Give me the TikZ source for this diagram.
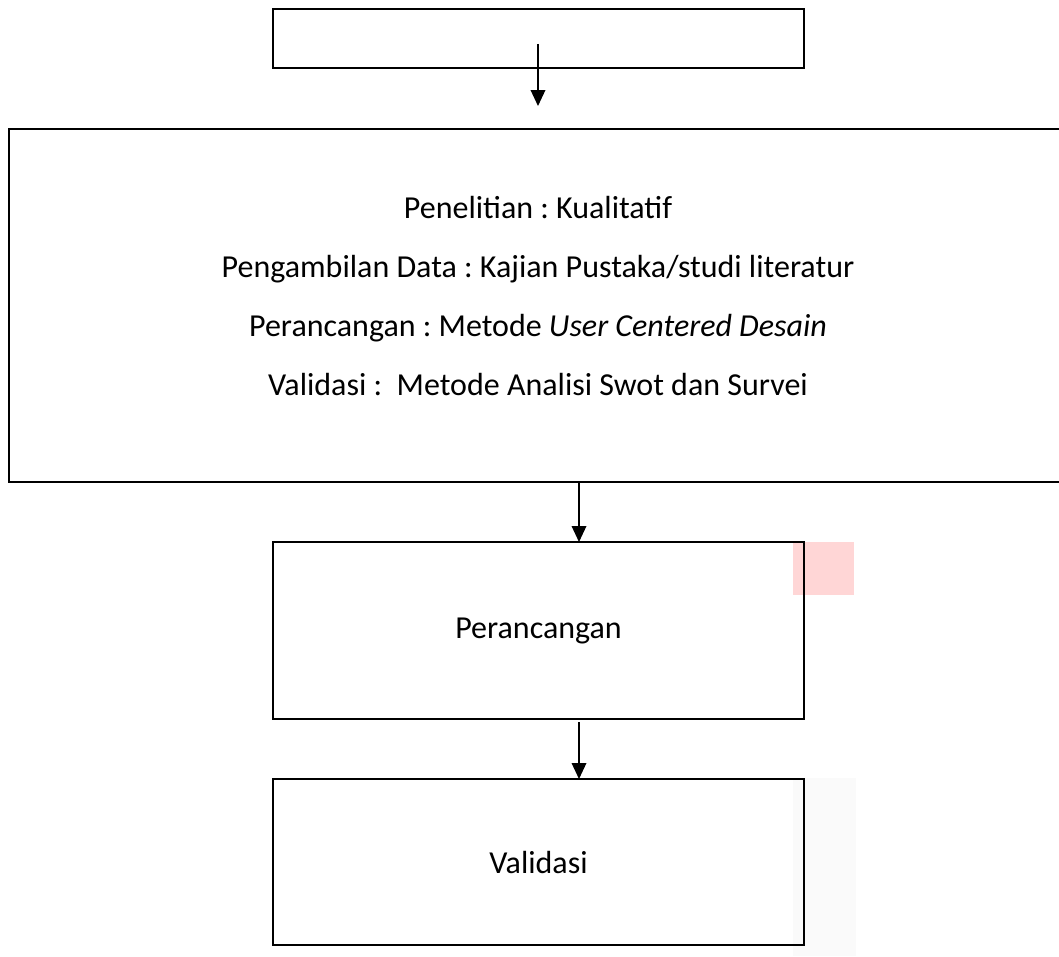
\documentclass[tikz,border=0pt]{standalone}
\usepackage{fontspec}
\setmainfont{Carlito}
\usetikzlibrary{arrows.meta}
\frenchspacing
\definecolor{merahmuda}{RGB}{255,214,214}
\definecolor{abumuda}{RGB}{250,250,250}
\tikzset{
  kotak/.style={shape=rectangle,draw=black,line width=1.5pt,inner sep=0pt},
  panah/.style={draw,-{Triangle[length=12pt,width=11pt]},line width=1pt}
}
\begin{document}
\begin{tikzpicture}[x=0.75pt,y=-0.75pt]
      \useasboundingbox (0,0) rectangle (1059,956);
      \clip (0,0) rectangle (1059,956);
      % bercak warna di samping kotak
      \fill[merahmuda] (793,542) rectangle (854,595);
      \fill[abumuda] (793,778) rectangle (856,956);
      % kotak-kotak
      \node[kotak,minimum width=531*0.75pt,minimum height=59*0.75pt] (Atas) at (538.5,38.5) {};
      \node[kotak,minimum width=1062*0.75pt,minimum height=353*0.75pt] (Metode) at (540,305.5) {};
      \node[align=center,font=\fontsize{24}{44.3}\selectfont] (Isi) at (538,296) {Penelitian : Kualitatif\\
        Pengambilan Data : Kajian Pustaka/studi literatur\\
        Perancangan : Metode \textit{User Centered Desain}\\
        Validasi : \ Metode Analisi Swot dan Survei};
      \node[kotak,minimum width=531*0.75pt,minimum height=177*0.75pt,font=\fontsize{24}{28}\selectfont] (Rancang) at (538.5,630.5) {Perancangan};
      \node[kotak,minimum width=531*0.75pt,minimum height=166*0.75pt,font=\fontsize{24}{28}\selectfont] (Validasi) at (538.5,862) {Validasi};
      % ujung panah
      \coordinate (P1) at (538,44);
      \coordinate (Q1) at (538,106);
      \coordinate (P2) at (579,482);
      \coordinate (Q2) at (579,542);
      \coordinate (P3) at (579,722);
      \coordinate (Q3) at (579,779);
      \path
      (P1) edge[panah] (Q1)
      (P2) edge[panah] (Q2)
      (P3) edge[panah] (Q3);
\end{tikzpicture}
\end{document}
